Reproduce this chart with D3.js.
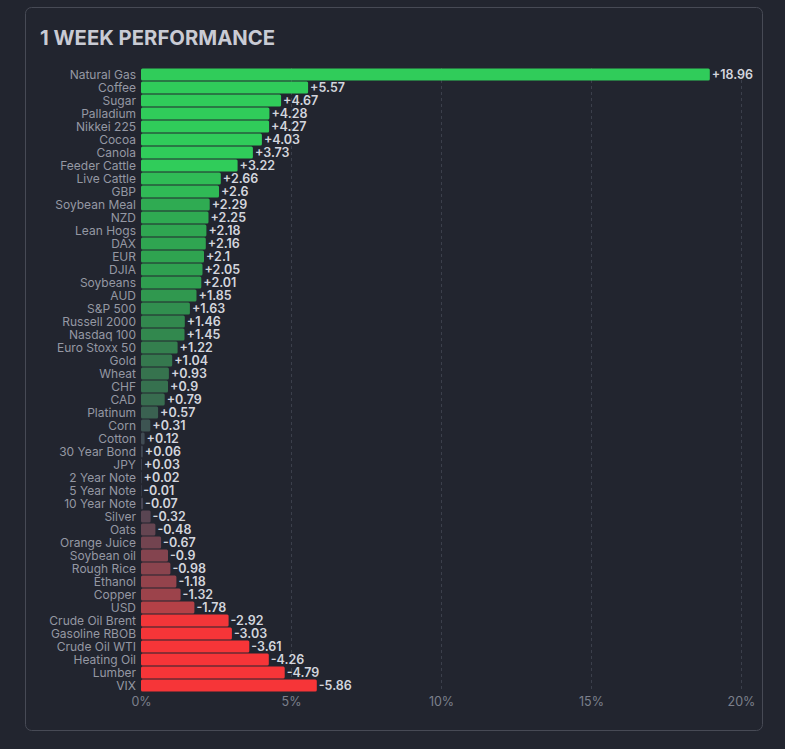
<!DOCTYPE html>
<html>
<head>
<meta charset="utf-8">
<script src="https://cdn.jsdelivr.net/npm/d3@7"></script>
<style>
  html, body { margin: 0; padding: 0; background: #22252f; }
  svg { display: block; }
</style>
</head>
<body>
<svg id="chart" width="785" height="749"></svg>
<script>
// ── 데이터 ─────────────────────────────────────────────
const names = [
  'Natural Gas', 'Coffee', 'Sugar', 'Palladium', 'Nikkei 225', 'Cocoa', 'Canola',
  'Feeder Cattle', 'Live Cattle', 'GBP', 'Soybean Meal', 'NZD', 'Lean Hogs', 'DAX',
  'EUR', 'DJIA', 'Soybeans', 'AUD', 'S&P 500', 'Russell 2000', 'Nasdaq 100',
  'Euro Stoxx 50', 'Gold', 'Wheat', 'CHF', 'CAD', 'Platinum', 'Corn', 'Cotton',
  '30 Year Bond', 'JPY', '2 Year Note', '5 Year Note', '10 Year Note', 'Silver',
  'Oats', 'Orange Juice', 'Soybean oil', 'Rough Rice', 'Ethanol', 'Copper', 'USD',
  'Crude Oil Brent', 'Gasoline RBOB', 'Crude Oil WTI', 'Heating Oil', 'Lumber', 'VIX'
];
const changes = [
  18.96, 5.57, 4.67, 4.28, 4.27, 4.03, 3.73,
  3.22, 2.66, 2.6, 2.29, 2.25, 2.18, 2.16,
  2.1, 2.05, 2.01, 1.85, 1.63, 1.46, 1.45,
  1.22, 1.04, 0.93, 0.9, 0.79, 0.57, 0.31, 0.12,
  0.06, 0.03, 0.02, -0.01, -0.07, -0.32,
  -0.48, -0.67, -0.9, -0.98, -1.18, -1.32, -1.78,
  -2.92, -3.03, -3.61, -4.26, -4.79, -5.86
];
const tickValues = [0, 5, 10, 15, 20];
const colorStops = [-3, -2, -1, 0, 1, 2, 3];
const colorRange = ['#f63538', '#bf4045', '#8b444e', '#414554', '#35764e', '#2f9e4f', '#30cc5a'];

const rows = names.map((n, i) => ({ name: n, value: changes[i] }));

// ── 레이아웃 ───────────────────────────────────────────
const X0 = 141, X1 = 741;       // 0% ~ 20%
const Y0 = 68,  Y1 = 692;       // 막대 영역
const FONT = 'Inter, "Open Sans", sans-serif';

const svg = d3.select('#chart');

// 카드
svg.append('rect')
  .attr('x', 25.5).attr('y', 7.5)
  .attr('width', 737).attr('height', 723)
  .attr('rx', 6).attr('ry', 6)
  .attr('fill', '#22252f')
  .attr('stroke', '#474a55')
  .attr('stroke-width', 1);

// 제목
svg.append('text')
  .attr('x', 40).attr('y', 45)
  .attr('fill', '#c9cbd4')
  .attr('font-family', FONT)
  .attr('font-size', 20.3)
  .attr('font-weight', 700)
  .text('1 WEEK PERFORMANCE');

const x = d3.scaleLinear().domain([0, 20]).range([X0, X1]);
const y = d3.scaleBand().domain(names).range([Y0, Y1]).paddingInner(0.08).paddingOuter(0.04);
const color = d3.scaleLinear().domain(colorStops).range(colorRange).clamp(true);

// 격자
svg.append('g')
  .selectAll('line')
  .data(tickValues.filter(t => t > 0))
  .join('line')
  .attr('x1', d => Math.round(x(d)) + 0.5).attr('x2', d => Math.round(x(d)) + 0.5)
  .attr('y1', Y0).attr('y2', Y1)
  .attr('stroke', '#3b3f4b')
  .attr('stroke-width', 1)
  .attr('stroke-dasharray', '3 3');

// x축
const xAxis = d3.axisBottom(x).tickValues(tickValues).tickFormat(d => d + '%').tickSize(0).tickPadding(0);
const ax = svg.append('g').attr('transform', `translate(0, ${Y1 + 5})`).call(xAxis);
ax.select('.domain').remove();
ax.selectAll('text')
  .attr('fill', '#7c808c')
  .attr('font-family', FONT)
  .attr('font-size', 12.5)
  .attr('dy', '0.71em');

// 막대
svg.append('g')
  .selectAll('rect')
  .data(rows)
  .join('rect')
  .attr('x', x(0))
  .attr('y', d => y(d.name))
  .attr('width', d => Math.max(0.6, x(Math.abs(d.value)) - x(0)))
  .attr('height', y.bandwidth())
  .attr('rx', 1.5)
  .attr('fill', d => color(d.value));

// 카테고리 라벨
svg.append('g')
  .selectAll('text')
  .data(rows)
  .join('text')
  .attr('x', 136)
  .attr('y', d => y(d.name) + y.bandwidth() / 2)
  .attr('dy', '0.35em')
  .attr('text-anchor', 'end')
  .attr('fill', '#9598a3')
  .attr('font-family', FONT)
  .attr('font-size', 12)
  .text(d => d.name);

// 값 라벨
svg.append('g')
  .selectAll('text')
  .data(rows)
  .join('text')
  .attr('x', d => x(Math.abs(d.value)) + 2)
  .attr('y', d => y(d.name) + y.bandwidth() / 2)
  .attr('dy', '0.35em')
  .attr('fill', '#d3d5dd')
  .attr('font-family', FONT)
  .attr('font-size', 12.5)
  .attr('font-weight', 600)
  .text(d => (d.value > 0 ? '+' : '') + d.value);
</script>
</body>
</html>
